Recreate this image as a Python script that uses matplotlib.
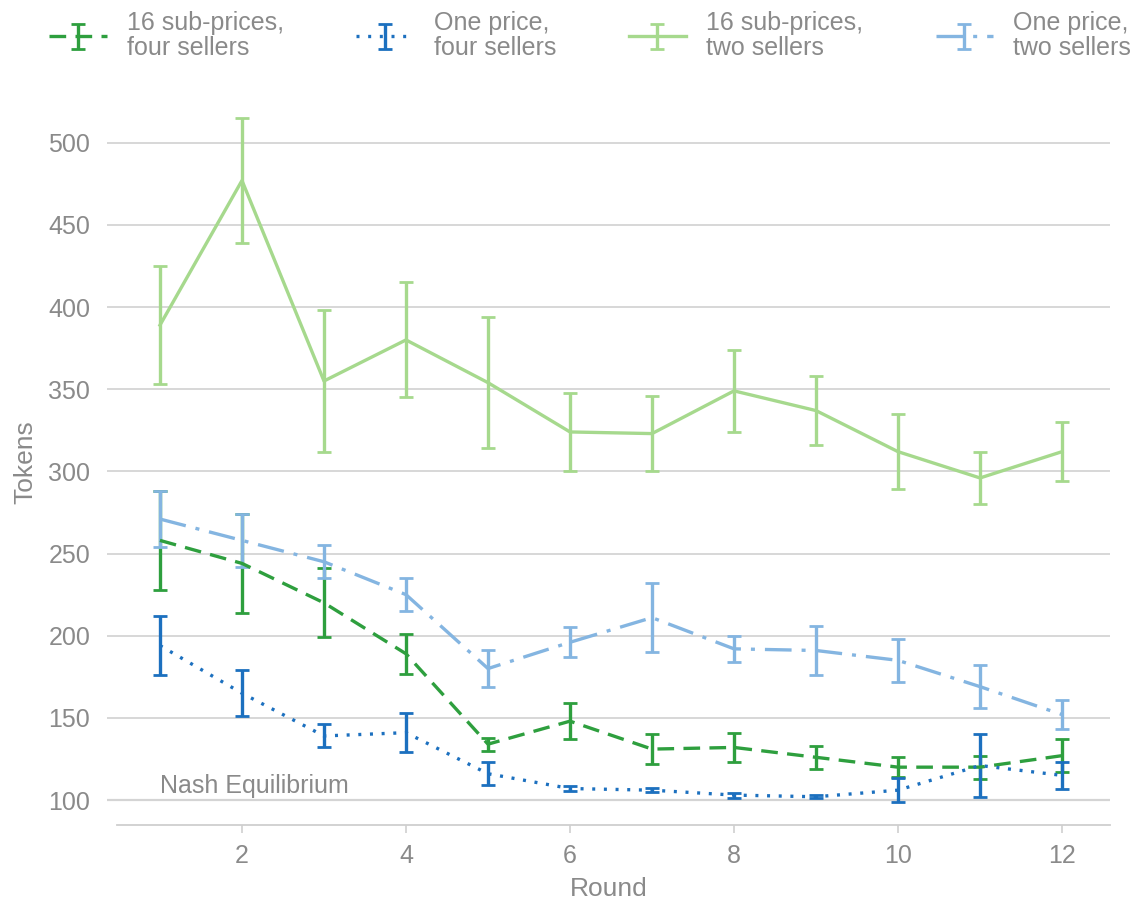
import matplotlib
matplotlib.use("Agg")
import matplotlib.pyplot as plt

plt.rcParams['font.family'] = ['Liberation Sans', 'DejaVu Sans']

rounds = list(range(1, 13))

# 16 sub-prices, four sellers
sub4_mean = [258, 244, 220, 189, 134, 148, 131, 132, 126, 120, 120, 127]
sub4_err = [30, 30, 21, 12, 4, 11, 9, 9, 7, 6, 7, 10]

# One price, four sellers
one4_mean = [194, 165, 139, 141, 116, 107, 106, 103, 102, 106, 121, 115]
one4_err = [18, 14, 7, 12, 7, 1.5, 1.2, 1.5, 1, 7.5, 19, 8]

# 16 sub-prices, two sellers
sub2_mean = [389, 477, 355, 380, 354, 324, 323, 349, 337, 312, 296, 312]
sub2_err = [36, 38, 43, 35, 40, 24, 23, 25, 21, 23, 16, 18]

# One price, two sellers
one2_mean = [271, 258, 245, 225, 180, 196, 211, 192, 191, 185, 169, 152]
one2_err = [17, 16, 10, 10, 11, 9, 21, 8, 15, 13, 13, 9]

labels = ["16 sub-prices,\nfour sellers", "One price,\nfour sellers",
          "16 sub-prices,\ntwo sellers", "One price,\ntwo sellers"]
colors = ["#2e9f3e", "#1c70bf", "#a6d98d", "#84b5e1"]
styles = [(0, (5, 2.8)), (0, (0.9, 2.6)), "-", (0, (8, 3, 1.2, 3))]

nash_value = 100
nash_label = "Nash Equilibrium"

grey = "#8a8a8a"

fig = plt.figure(figsize=(11.48, 9.06), dpi=100)
ax = fig.add_axes([0.0932, 0.0894, 0.8737, 0.8002])

series = [(sub4_mean, sub4_err), (one4_mean, one4_err),
          (sub2_mean, sub2_err), (one2_mean, one2_err)]
handles = []
for (m, e), c, ls, lab in zip(series, colors, styles, labels):
    cont = ax.errorbar(rounds, m, yerr=e, color=c, linestyle=ls, linewidth=2.4,
                       elinewidth=2.4, capsize=5, capthick=2.0, label=lab)
    if ls != "-":
        cont[0].set_dash_capstyle("butt")
    handles.append(cont)

ax.axhline(nash_value, color="#d9d9d9", linewidth=1.6, zorder=0)
ax.text(1.0, nash_value + 1.5, nash_label, color=grey, fontsize=18,
        ha="left", va="bottom")

ax.set_xlim(0.354, 12.585)
ax.set_ylim(84.8, 526)
ax.set_yticks(range(100, 501, 50))
ax.set_xticks(range(2, 13, 2))
ax.grid(axis="y", color="#d4d4d4", linewidth=1.3)
ax.set_axisbelow(True)

for s in ["left", "right", "top"]:
    ax.spines[s].set_visible(False)
ax.spines["bottom"].set_color("#cfcfcf")
ax.spines["bottom"].set_linewidth(1.3)
ax.spines["bottom"].set_bounds(0.476, 12.585)

ax.tick_params(axis="y", length=0, pad=12, labelsize=18, labelcolor=grey)
ax.tick_params(axis="x", length=6, width=1.2, color="#cfcfcf", pad=8,
               labelsize=18, labelcolor=grey)

ax.set_xlabel("Round", fontsize=19, color=grey, labelpad=6)
ax.set_ylabel("Tokens", fontsize=19, color=grey, labelpad=8)

leg = fig.legend(handles=handles, labels=labels, loc="upper center",
                 bbox_to_anchor=(0.514, 1.007), ncol=4, frameon=False, fontsize=18,
                 labelcolor=grey, handlelength=2.3, handletextpad=0.8,
                 columnspacing=2.9, borderaxespad=0.3)
for t in leg.get_texts():
    t.set_linespacing(1.05)

fig.savefig("out.png", dpi=100)
